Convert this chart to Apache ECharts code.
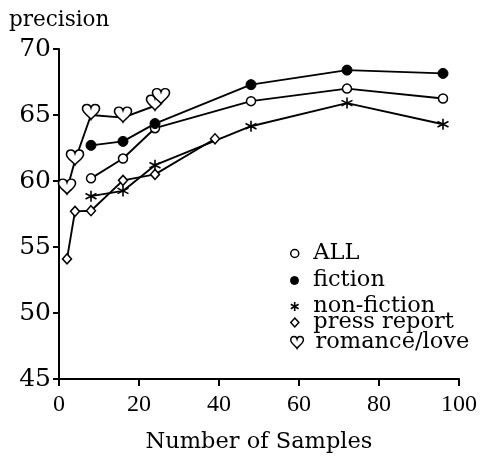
<!DOCTYPE html>
<html><head><meta charset="utf-8">
<script src="https://cdn.jsdelivr.net/npm/echarts@6/dist/echarts.min.js"></script>
<style>html,body{margin:0;padding:0;background:#fff}#c{width:485px;height:459px}</style>
</head><body><div id="c"></div>
<script>
// ---- data ----
const xTickLabels = [0, 20, 40, 60, 80, 100];
const yTickLabels = [45, 50, 55, 60, 65, 70];

const allX = [8, 16, 24, 48, 72, 96];
const allY = [60.2, 61.7, 64.0, 66.05, 67.0, 66.25];

const fictionX = [8, 16, 24, 48, 72, 96];
const fictionY = [62.7, 63.0, 64.35, 67.3, 68.4, 68.15];

const nonFictionX = [8, 16, 24, 48, 72, 96];
const nonFictionY = [58.85, 59.25, 61.2, 64.15, 65.9, 64.3];

const pressX = [2, 4, 8, 16, 24, 39];
const pressY = [54.1, 57.7, 57.75, 60.05, 60.5, 63.2];

const romanceX = [2, 4, 8, 16, 24, 25.5];
const romanceY = [59.35, 61.55, 65.0, 64.8, 65.7, 66.2];

const seriesNames = ['ALL', 'fiction', 'non-fiction', 'press report', 'romance/love'];

// ---- styling ----
const SERIF = "'DejaVu Serif', serif";
const HEART = 'path://M10,18 C8,14 0,10 0,4.5 C0,0.5 3,-1 5.5,-1 C8,-1 9.5,1 10,3 C10.5,1 12,-1 14.5,-1 C17,-1 20,0.5 20,4.5 C20,10 12,14 10,18 Z';
const STAR = 'path://M0,-1 L0,1 M-0.866,-0.5 L0.866,0.5 M-0.866,0.5 L0.866,-0.5';
const DIAMOND = 'path://M0,-1 L0.9,0 L0,1 L-0.9,0 Z';

const openStyle = {color: '#fff', borderColor: '#000', borderWidth: 1.5};
const fillStyle = {color: '#000', borderColor: '#000', borderWidth: 1};
const starStyle = {color: '#000', borderColor: '#000', borderWidth: 1.6};

function pairs(xs, ys) { return xs.map((x, i) => [x, ys[i]]); }

const seriesDefs = [
  {name: seriesNames[0], x: allX, y: allY, symbol: 'circle', size: 9, style: openStyle},
  {name: seriesNames[1], x: fictionX, y: fictionY, symbol: 'circle', size: 10, style: fillStyle},
  {name: seriesNames[2], x: nonFictionX, y: nonFictionY, symbol: STAR, size: 11, style: starStyle},
  {name: seriesNames[3], x: pressX, y: pressY, symbol: DIAMOND, size: [9, 10], style: openStyle},
  {name: seriesNames[4], x: romanceX, y: romanceY, symbol: HEART, size: [17, 15], style: openStyle, offset: [0, -3]}
];

const legendDefs = [
  {name: seriesNames[0], icon: 'circle', size: 8, top: 242, style: openStyle},
  {name: seriesNames[1], icon: 'circle', size: 8, top: 269, style: fillStyle},
  {name: seriesNames[2], icon: STAR, size: 9, top: 295, style: starStyle},
  {name: seriesNames[3], icon: DIAMOND, size: 9, top: 311, style: openStyle},
  {name: seriesNames[4], icon: HEART, size: 12, top: 331, style: openStyle}
];

const chart = echarts.init(document.getElementById('c'), null, {renderer: 'canvas'});
chart.setOption({
  animation: false,
  backgroundColor: '#fff',
  title: {
    text: 'precision', left: 9, top: 9, padding: 0,
    textStyle: {fontFamily: SERIF, fontSize: 21.5, fontWeight: 'normal', color: '#000', lineHeight: 22}
  },
  grid: {left: 59, right: 26, top: 49, bottom: 80, containLabel: false},
  xAxis: {
    type: 'value', min: xTickLabels[0], max: xTickLabels[xTickLabels.length - 1], interval: 20,
    name: 'Number of Samples', nameLocation: 'middle', nameGap: 52,
    nameTextStyle: {fontFamily: SERIF, fontSize: 22.5, color: '#000', lineHeight: 22},
    axisLine: {show: true, onZero: false, lineStyle: {color: '#000', width: 2}},
    axisTick: {show: true, length: 7, lineStyle: {color: '#000', width: 2}},
    axisLabel: {fontFamily: "'Liberation Serif', serif", fontSize: 24, color: '#000', margin: 14, lineHeight: 24},
    splitLine: {show: false}
  },
  yAxis: {
    type: 'value', min: yTickLabels[0], max: yTickLabels[yTickLabels.length - 1], interval: 5,
    axisLine: {show: true, onZero: false, lineStyle: {color: '#000', width: 2}},
    axisTick: {show: true, length: 6, lineStyle: {color: '#000', width: 2}},
    axisLabel: {fontFamily: SERIF, fontSize: 25, color: '#000', margin: 8},
    splitLine: {show: false}
  },
  legend: legendDefs.map(d => ({
    show: true, orient: 'vertical', left: 290, top: d.top, padding: 0,
    itemWidth: 27, itemHeight: d.size, itemGap: 0, symbolKeepAspect: true,
    selectedMode: false,
    data: [{name: d.name, icon: d.icon, itemStyle: d.style}],
    textStyle: {fontFamily: SERIF, fontSize: 22.5, color: '#000', lineHeight: 22}
  })),
  series: seriesDefs.map(s => ({
    name: s.name, type: 'line', data: pairs(s.x, s.y),
    symbol: s.symbol, symbolSize: s.size, symbolOffset: s.offset || [0, 0],
    showAllSymbol: true,
    lineStyle: {color: '#000', width: 1.9},
    itemStyle: s.style,
    emphasis: {disabled: true}
  }))
});
</script>
</body></html>
